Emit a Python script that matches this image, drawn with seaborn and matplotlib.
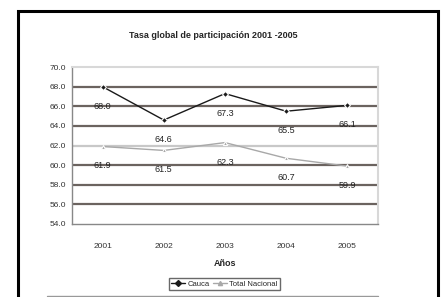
import pandas as pd
import matplotlib.pyplot as plt
import seaborn as sns
from matplotlib.lines import Line2D
from matplotlib.patches import Rectangle

# --- data ---
years = ['2001', '2002', '2003', '2004', '2005']
cauca = [68.0, 64.6, 67.3, 65.5, 66.1]
nacional = [61.9, 61.5, 62.3, 60.7, 59.9]
y_ticks = [54.0, 56.0, 58.0, 60.0, 62.0, 64.0, 66.0, 68.0, 70.0]

df = pd.DataFrame({
    'pos': list(range(len(years))) * 2,
    'valor': cauca + nacional,
    'serie': ['Cauca'] * len(years) + ['Total Nacional'] * len(years),
})

sns.set_theme(style='white')
plt.rcParams['font.family'] = ['Liberation Sans Narrow', 'Liberation Sans', 'DejaVu Sans']

fig = plt.figure(figsize=(4.42, 2.97), dpi=100)
ax = fig.add_axes([0.163, 0.246, 0.692, 0.528])

palette = {'Cauca': '#1a1a1a', 'Total Nacional': '#a8a8a8'}
sns.lineplot(data=df, x='pos', y='valor', hue='serie', style='serie',
             palette=palette, markers={'Cauca': 'D', 'Total Nacional': '^'},
             dashes=False, markersize=3, linewidth=1.0, ax=ax, legend=False)

# gridlines (the 62 line is light in the reference)
for v in y_ticks[1:-1]:
    col = '#c8c8c8' if v == 62.0 else '#6b635f'
    ax.axhline(v, color=col, linewidth=1.6, zorder=0)

ax.set_xlim(-0.5, len(years) - 0.5)
ax.set_ylim(54, 70)
ax.set_yticks(y_ticks)
ax.set_yticklabels([f'{v:.1f}' for v in y_ticks], fontsize=6, color='#333333')
ax.set_xticks(range(len(years)))
ax.set_xticklabels(years, fontsize=6, color='#333333')
ax.set_xticks([i - 0.5 for i in range(len(years) + 1)], minor=True)
ax.tick_params(axis='x', which='major', length=0, pad=14)
ax.tick_params(axis='x', which='minor', length=3, color='#777777', width=0.8)
ax.tick_params(axis='y', length=2, color='#777777', pad=2)
ax.set_xlabel('Años', fontsize=6.5, fontweight='bold', labelpad=6)
ax.set_ylabel('')

for side in ['top', 'right']:
    ax.spines[side].set_color('#d8d8d8')
    ax.spines[side].set_linewidth(1.5)
for side in ['left', 'bottom']:
    ax.spines[side].set_color('#888888')
    ax.spines[side].set_linewidth(1.0)

# data labels below points
for serie in [cauca, nacional]:
    for i, v in enumerate(serie):
        ax.annotate(f'{v:.1f}', (i, v), xytext=(0, -14), textcoords='offset points',
                    ha='center', va='center', fontsize=6.5, color='#222222')

fig.text(0.482, 0.882, 'Tasa global de participación 2001 -2005',
         ha='center', va='center', fontsize=6.5, fontweight='bold')

handles = [
    Line2D([0], [0], color=palette['Cauca'], marker='D', markersize=3, linewidth=1.0),
    Line2D([0], [0], color=palette['Total Nacional'], marker='^', markersize=3, linewidth=1.0),
]
fig.legend(handles, ['Cauca', 'Total Nacional'], loc='center', bbox_to_anchor=(0.508, 0.044),
           ncol=2, fontsize=5.5, frameon=True, fancybox=False, edgecolor='#444444',
           handlelength=1.8, columnspacing=0.5, handletextpad=0.3, borderpad=0.35)

# outer frame and bottom rule
fig.patches.append(Rectangle((0.041, -0.1), 0.95, 1.063, transform=fig.transFigure,
                             fill=False, edgecolor='black', linewidth=2.2))
fig.lines.append(Line2D([0.106, 0.855], [0.004, 0.004], transform=fig.transFigure,
                        color='#999999', linewidth=1.0))

fig.savefig('out.png', dpi=100)
